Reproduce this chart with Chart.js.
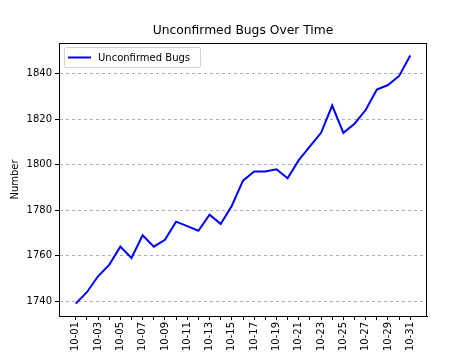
<!DOCTYPE html>
<html>
<head>
<meta charset="utf-8">
<script src="https://cdn.jsdelivr.net/npm/chart.js@4/dist/chart.umd.min.js"></script>
<style>
  html, body { margin: 0; padding: 0; background: #fff; }
  #wrap { width: 474px; height: 355px; }
</style>
</head>
<body>
<div id="wrap"><canvas id="myChart" width="474" height="355"></canvas></div>
<script>
var chartTitle = "Unconfirmed Bugs Over Time";
var days = ["10-01", "10-02", "10-03", "10-04", "10-05", "10-06", "10-07", "10-08",
  "10-09", "10-10", "10-11", "10-12", "10-13", "10-14", "10-15", "10-16", "10-17",
  "10-18", "10-19", "10-20", "10-21", "10-22", "10-23", "10-24", "10-25", "10-26",
  "10-27", "10-28", "10-29", "10-30", "10-31"];
var bugs = [1739, 1744, 1751, 1756, 1764, 1759, 1769, 1764, 1767, 1775, 1773, 1771,
  1778, 1774, 1782, 1793, 1797, 1797, 1798, 1794, 1802, 1808, 1814, 1826, 1814,
  1818, 1824, 1833, 1835, 1839, 1848];
var yTicks = [1740, 1760, 1780, 1800, 1820, 1840];

var font = "'DejaVu Sans', sans-serif";

// matplotlib style 5% margins
var yMin = Math.min.apply(null, bugs), yMax = Math.max.apply(null, bugs);
var yPad = (yMax - yMin) * 0.05;
var xPad = (days.length - 1) * 0.05;

// axes frame, title centred over the plot, legend box inside (top left)
var frame = {
  id: "frame",
  afterDraw: function (chart) {
    var c = chart.ctx, a = chart.chartArea;
    c.save();
    c.strokeStyle = "#000";
    c.lineWidth = 1;
    c.strokeRect(a.left + 0.5, a.top + 0.5, a.right - a.left - 1, a.bottom - a.top);

    c.fillStyle = "#000";
    c.font = "12.3px " + font;
    c.textAlign = "center";
    c.textBaseline = "middle";
    c.fillText(chartTitle, (a.left + a.right) / 2, a.top - 12);

    var ds = chart.data.datasets[0];
    c.font = "10px " + font;
    c.textAlign = "left";
    var tw = c.measureText(ds.label).width;
    var bx = a.left + 5, by = a.top + 4, bw = tw + 44, bh = 20;
    c.fillStyle = "rgba(255,255,255,0.8)";
    c.strokeStyle = "#d0d0d0";
    c.beginPath();
    c.roundRect(bx + 0.5, by + 0.5, bw, bh, 2);
    c.fill();
    c.stroke();

    c.strokeStyle = ds.borderColor;
    c.lineWidth = ds.borderWidth;
    c.beginPath();
    c.moveTo(bx + 4, by + bh / 2 + 0.5);
    c.lineTo(bx + 27, by + bh / 2 + 0.5);
    c.stroke();

    c.fillStyle = "#000";
    c.fillText(ds.label, bx + 34, by + bh / 2 + 1);
    c.restore();
  }
};

var ctx = document.getElementById("myChart");
var myChart = new Chart(ctx, {
  type: "line",
  data: {
    datasets: [{
      label: "Unconfirmed Bugs",
      data: bugs.map(function (v, i) { return { x: i, y: v }; }),
      borderColor: "#0000ff",
      backgroundColor: "#0000ff",
      borderWidth: 2,
      pointRadius: 0,
      fill: false,
      tension: 0
    }]
  },
  plugins: [frame],
  options: {
    responsive: false,
    animation: false,
    layout: { padding: { left: 0, right: 47, top: 43, bottom: 0 } },
    plugins: {
      title: { display: false },
      legend: { display: false },
      tooltip: { enabled: false }
    },
    scales: {
      x: {
        type: "linear",
        min: -xPad,
        max: days.length - 1 + xPad,
        afterBuildTicks: function (axis) {
          axis.ticks = days.map(function (d, i) { return { value: i }; });
        },
        afterFit: function (scale) { scale.height = 39; },
        ticks: {
          autoSkip: false,
          minRotation: 90,
          maxRotation: 90,
          padding: 2,
          color: "#000",
          font: { family: font, size: 10 },
          callback: function (v) { return v % 2 === 0 ? days[v] : ""; }
        },
        grid: {
          color: "rgba(0,0,0,0)",
          drawOnChartArea: false,
          tickColor: "#000",
          tickLength: 4,
          tickWidth: 1
        },
        border: { color: "#000" }
      },
      y: {
        min: yMin - yPad,
        max: yMax + yPad,
        afterBuildTicks: function (axis) {
          axis.ticks = yTicks.map(function (v) { return { value: v }; });
        },
        afterFit: function (scale) { scale.width = 59; },
        title: {
          display: true,
          text: "Number",
          color: "#000",
          font: { family: font, size: 10 },
          padding: { top: 9, bottom: 0 }
        },
        ticks: {
          padding: 3,
          color: "#000",
          font: { family: font, size: 10 },
          callback: function (v) { return String(v); }
        },
        grid: {
          color: "#b0b0b0",
          tickColor: "#000",
          tickBorderDash: [],
          tickLength: 4,
          tickWidth: 1
        },
        border: { color: "#000", dash: [3, 3] }
      }
    }
  }
});
</script>
</body>
</html>
